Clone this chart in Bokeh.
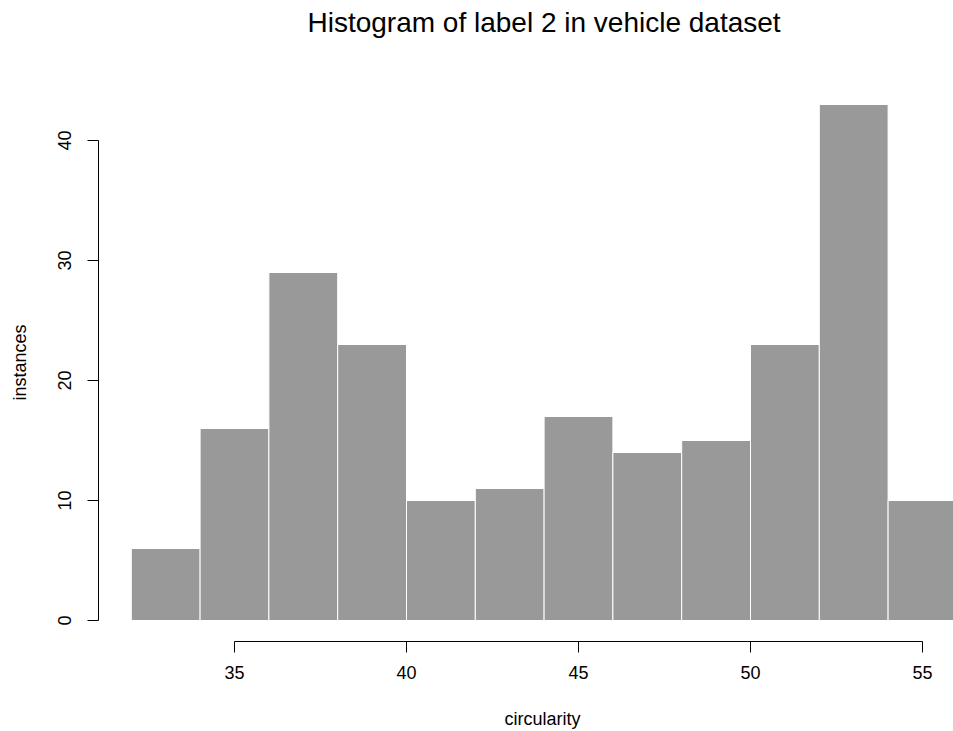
from bokeh.plotting import figure
from bokeh.models import Range1d, FixedTicker, Title, LinearAxis, CustomJSTickFormatter
from bokeh.embed import file_html
from bokeh.resources import INLINE

# Data
breaks = [32, 34, 36, 38, 40, 42, 44, 46, 48, 50, 52, 54, 56]
counts = [6, 16, 29, 23, 10, 11, 17, 14, 15, 23, 43, 10]
x_ticks = [35, 40, 45, 50, 55]
y_ticks = [0, 10, 20, 30, 40]
title_text = "Histogram of label 2 in vehicle dataset"
x_label = "circularity"
y_label = "instances"

FONT = "Liberation Sans"

W, H = 953, 731
left_b, right_b, top_b, bottom_b = 98, 0, 83, 90
px_x = 34.4
px_y = 12.0
x0 = 32 - (130.8 - left_b) / px_x
x1 = x0 + (W - left_b - right_b) / px_x
ytop = (620 - top_b) / px_y
y0 = ytop - (H - top_b - bottom_b) / px_y

p = figure(width=W, height=H, output_backend="svg", toolbar_location=None,
           x_range=Range1d(x0, x1), y_range=Range1d(y0, ytop),
           min_border_left=left_b, min_border_right=right_b,
           min_border_top=top_b, min_border_bottom=bottom_b)
p.title.visible = False
p.outline_line_color = None
p.grid.visible = False
p.background_fill_color = "white"
p.border_fill_color = "white"

p.quad(left=breaks[:-1], right=breaks[1:], top=counts, bottom=0,
       fill_color="#999999", line_color="white", line_width=1)

for ax, ticks in ((p.xaxis[0], x_ticks), (p.yaxis[0], y_ticks)):
    ax.ticker = FixedTicker(ticks=ticks)
    ax.bounds = (ticks[0], ticks[-1])
    ax.major_tick_out = 11
    ax.major_tick_in = 0
    ax.minor_tick_line_color = None
    ax.axis_line_color = "black"
    ax.major_tick_line_color = "black"
    ax.major_label_text_font = FONT
    ax.major_label_text_font_size = "18px"
    ax.major_label_text_color = "black"

p.xaxis.major_label_standoff = 13
p.yaxis.major_label_standoff = 17
p.yaxis.major_label_orientation = "vertical"

p.yaxis.axis_label = y_label
p.yaxis.axis_label_text_font = FONT
p.yaxis.axis_label_text_font_size = "18px"
p.yaxis.axis_label_text_font_style = "normal"
p.yaxis.axis_label_text_color = "black"
p.yaxis.axis_label_standoff = 25


def spacer(size):
    # a blank axis (white tick on white, empty label) that only reserves room
    # between the frame and a title
    return LinearAxis(ticker=FixedTicker(ticks=[44]), axis_line_color=None,
                      major_tick_line_color="white", minor_tick_line_color=None,
                      major_tick_out=size, major_tick_in=0,
                      minor_tick_out=0, minor_tick_in=0,
                      formatter=CustomJSTickFormatter(code="return ''"),
                      major_label_standoff=0, major_label_text_font_size="0px")


p.add_layout(spacer(46), "above")
p.add_layout(Title(text=title_text, text_font=FONT, text_font_size="28px",
                   text_font_style="normal", text_color="black",
                   align="left", offset=209, standoff=0), "above")

p.add_layout(spacer(25), "below")
p.add_layout(Title(text=x_label, text_font=FONT, text_font_size="18px",
                   text_font_style="normal", text_color="black",
                   align="left", offset=406, standoff=0), "below")

open("out.html", "w").write(file_html(p, INLINE))
